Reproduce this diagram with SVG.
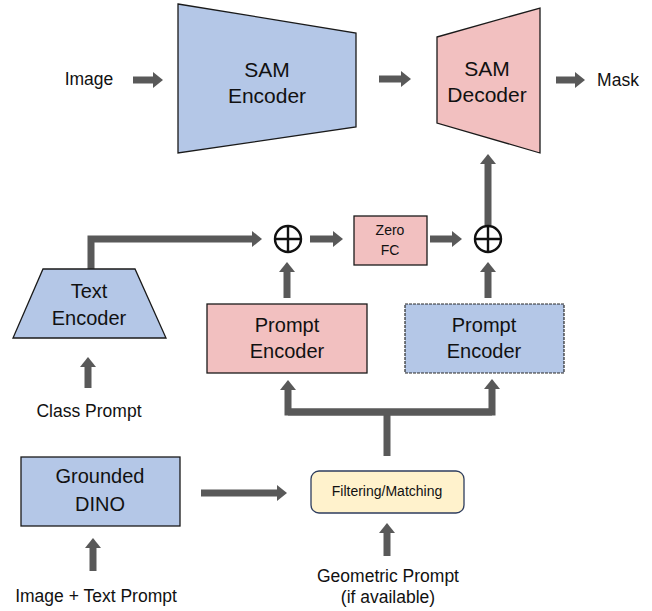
<svg xmlns="http://www.w3.org/2000/svg" width="652" height="611" viewBox="0 0 652 611">
  <style>
    text { font-family: "Liberation Sans", Arial, sans-serif; fill: #111; text-anchor: middle; }
    .blue { fill: #b4c7e7; stroke: #1a1a1a; stroke-width: 1.3; }
    .pink { fill: #f2c0c0; stroke: #1a1a1a; stroke-width: 1.3; }
    .dash { fill: #b4c7e7; stroke: #2a2a2a; stroke-width: 1.2; stroke-dasharray: 3 1; }
    .filter { fill: #fff2cc; stroke: #2e3d5e; stroke-width: 1.3; }
    .arrow { fill: none; stroke: #595959; stroke-width: 7; stroke-linejoin: miter; marker-end: url(#head); }
    .link { fill: none; stroke: #595959; stroke-width: 7; }
    .sum circle { fill: #fff; stroke: #111; stroke-width: 2.4; }
    .sum path { stroke: #111; stroke-width: 2.4; }
    .box { font-size: 20px; }
    .lbl { font-size: 17.5px; }
  </style>
  <defs>
    <marker id="head" viewBox="0 0 10 16" refX="0" refY="8" markerWidth="10" markerHeight="16" markerUnits="userSpaceOnUse" orient="auto">
      <path d="M0,0 L10,8 L0,16 z" fill="#595959"/>
    </marker>
  </defs>

  <!-- connectors -->
  <g id="connectors">
    <line class="arrow" x1="133" y1="80" x2="153" y2="80"/>
    <line class="arrow" x1="379" y1="79" x2="401" y2="79"/>
    <line class="arrow" x1="556" y1="80" x2="575" y2="80"/>
    <line class="arrow" x1="488" y1="225" x2="488" y2="164"/>
    <path class="arrow" d="M91,269 L91,239 L252,239"/>
    <line class="arrow" x1="287" y1="298" x2="287" y2="272"/>
    <line class="arrow" x1="310" y1="239" x2="333" y2="239"/>
    <line class="arrow" x1="430" y1="239" x2="452" y2="239"/>
    <line class="arrow" x1="488" y1="298" x2="488" y2="272"/>
    <line class="link" x1="387" y1="456" x2="387" y2="412"/>
    <path class="arrow" d="M492,412 L288,412 L288,390"/>
    <path class="arrow" d="M288,412 L492,412 L492,389"/>
    <line class="arrow" x1="88" y1="388" x2="88" y2="367"/>
    <line class="arrow" x1="201" y1="493" x2="277" y2="493"/>
    <line class="arrow" x1="93" y1="571" x2="93" y2="548"/>
    <line class="arrow" x1="387" y1="556" x2="387" y2="533"/>
  </g>

  <!-- labels -->
  <g id="image-label"><text class="lbl" x="89" y="85">Image</text></g>
  <g id="mask-label"><text class="lbl" x="618" y="86">Mask</text></g>

  <g id="sam-encoder">
    <polygon class="blue" points="178,4 356,33 356,127 178,153"/>
    <text x="267" y="77" style="font-size:21px">SAM</text>
    <text x="267" y="103" style="font-size:21px">Encoder</text>
  </g>

  <g id="sam-decoder">
    <polygon class="pink" points="437,37 540,8 540,153 437,123"/>
    <text x="487" y="76" style="font-size:21px">SAM</text>
    <text x="487" y="102" style="font-size:21px">Decoder</text>
  </g>

  <g id="sum-left" class="sum">
    <circle cx="288" cy="239" r="13"/>
    <path d="M276,239 H300 M288,227 V251"/>
  </g>

  <g id="sum-right" class="sum">
    <circle cx="488" cy="239" r="13"/>
    <path d="M476,239 H500 M488,227 V251"/>
  </g>

  <g id="zero-fc">
    <rect class="pink" x="354" y="216" width="73" height="49"/>
    <text x="390" y="235" style="font-size:14px">Zero</text>
    <text x="390" y="255" style="font-size:14px">FC</text>
  </g>

  <g id="text-encoder">
    <polygon class="blue" points="43,269 135,269 166,338 13,338"/>
    <text class="box" x="89" y="298">Text</text>
    <text class="box" x="89" y="325">Encoder</text>
  </g>

  <g id="prompt-encoder-a">
    <rect class="pink" x="207" y="304" width="160" height="69"/>
    <text class="box" x="287" y="332">Prompt</text>
    <text class="box" x="287" y="358">Encoder</text>
  </g>

  <g id="prompt-encoder-b">
    <rect class="dash" x="405" y="304" width="159" height="69"/>
    <text class="box" x="484" y="332">Prompt</text>
    <text class="box" x="484" y="358">Encoder</text>
  </g>

  <g id="class-prompt"><text class="lbl" x="89" y="417">Class Prompt</text></g>

  <g id="grounded-dino">
    <rect class="blue" x="21" y="457" width="159" height="69"/>
    <text class="box" x="100" y="483">Grounded</text>
    <text class="box" x="100" y="511">DINO</text>
  </g>

  <g id="filtering">
    <rect class="filter" x="311" y="471" width="153" height="42" rx="8"/>
    <text x="387" y="496" style="font-size:14px">Filtering/Matching</text>
  </g>

  <g id="image-text-prompt"><text class="lbl" x="96" y="602">Image + Text Prompt</text></g>

  <g id="geometric-prompt">
    <text class="lbl" x="388" y="582">Geometric Prompt</text>
    <text class="lbl" x="388" y="603">(if available)</text>
  </g>
</svg>
